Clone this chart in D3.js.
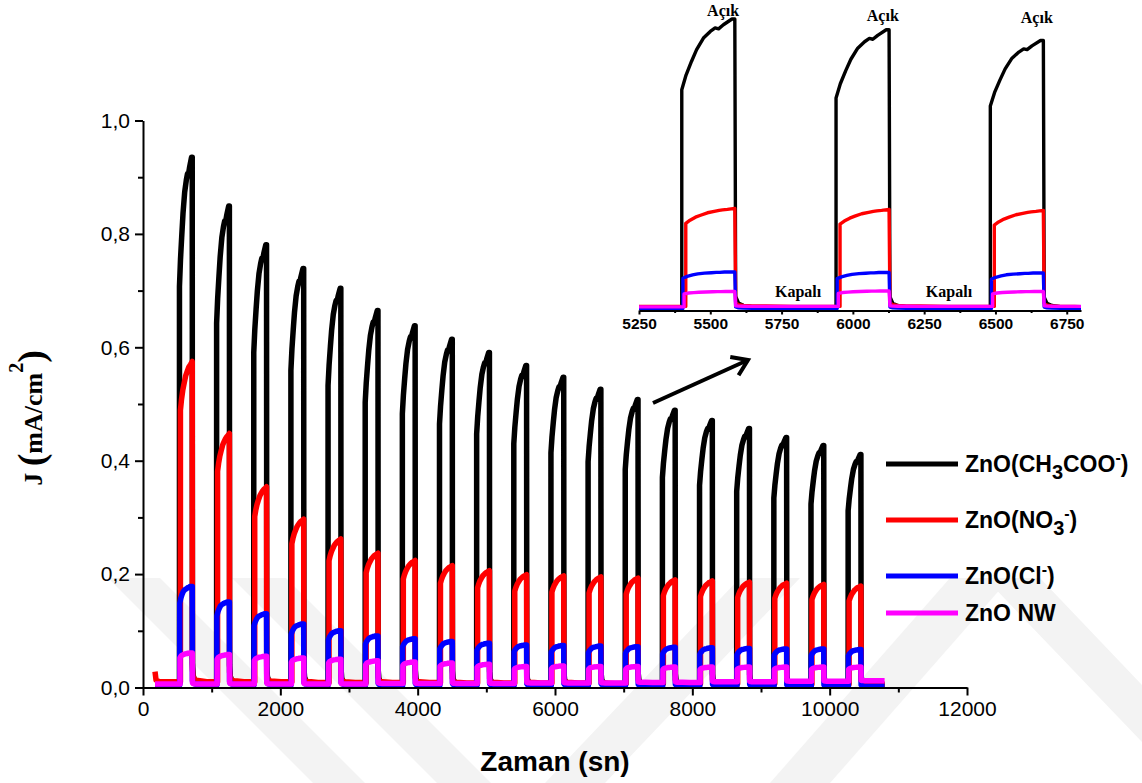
<!DOCTYPE html>
<html>
<head>
<meta charset="utf-8">
<script src="https://cdn.jsdelivr.net/npm/d3@7/dist/d3.min.js"></script>
<style>
  body { margin: 0; background: #ffffff; }
  svg { display: block; }
</style>
</head>
<body>
<svg id="chart" width="1142" height="783"></svg>
<script>
// ---- measurement timing (s) ----
const pulseStart = [531, 1072, 1613, 2154, 2695, 3236, 3777, 4318, 4859, 5400,
                    5941, 6482, 7023, 7564, 8105, 8646, 9187, 9728, 10269];
const pulseLength = 186;
const recordEnd = 10800;

// ---- photocurrent at the end of each light-on period (mA/cm2) ----
const peakAcetate = [0.935, 0.849, 0.781, 0.739, 0.704, 0.665, 0.638, 0.614, 0.591, 0.568,
                     0.547, 0.526, 0.508, 0.489, 0.471, 0.457, 0.441, 0.427, 0.411];
const peakNitrate = [0.575, 0.448, 0.354, 0.297, 0.262, 0.237, 0.224, 0.215, 0.206, 0.199,
                     0.197, 0.195, 0.193, 0.190, 0.188, 0.186, 0.184, 0.182, 0.179];
const peakChloride = [0.178, 0.151, 0.130, 0.112, 0.100, 0.091, 0.086, 0.081, 0.078, 0.075,
                      0.074, 0.073, 0.072, 0.071, 0.070, 0.069, 0.068, 0.068, 0.067];
const peakNanowire = [0.061, 0.058, 0.055, 0.052, 0.050, 0.047, 0.045, 0.043, 0.041, 0.037,
                      0.038, 0.037, 0.037, 0.036, 0.036, 0.036, 0.036, 0.036, 0.036];

// ---- dark current before each pulse and after the last one ----
const darkAcetate = [0.006, 0.006, 0.006, 0.006, 0.006, 0.005, 0.005, 0.005, 0.005, 0.005,
                     0.005, 0.005, 0.005, 0.005, 0.005, 0.005, 0.005, 0.005, 0.005, 0.005];
const darkNitrate = [0.010, 0.010, 0.010, 0.010, 0.009, 0.009, 0.009, 0.009, 0.008, 0.008,
                     0.008, 0.008, 0.007, 0.007, 0.007, 0.007, 0.007, 0.006, 0.006, 0.006];
const darkChloride = [0.005, 0.005, 0.005, 0.005, 0.005, 0.005, 0.004, 0.004, 0.004, 0.004,
                      0.004, 0.004, 0.004, 0.003, 0.003, 0.003, 0.003, 0.002, 0.002, 0.002];
const darkNanowire = [0.006, 0.006, 0.006, 0.006, 0.006, 0.006, 0.007, 0.007, 0.007, 0.007,
                      0.008, 0.008, 0.008, 0.009, 0.009, 0.010, 0.010, 0.011, 0.011, 0.012];

// ---- start of the recording ----
const leadTime = [175, 190, 240];
const leadAcetate = [0.006, 0.006, 0.006];
const leadNitrate = [0.028, 0.013, 0.010];
const leadChloride = [0.005, 0.005, 0.005];
const leadNanowire = [0.006, 0.006, 0.006];

// ---- response shape within a light-on period (fraction of the photocurrent) ----
const riseTime = [0, 15, 34, 52, 76, 100, 117, 129, 146, 176];
const riseAcetate = [0.755, 0.806, 0.853, 0.894, 0.934, 0.957, 0.969, 0.966, 0.980, 1.0];
const riseNitrate = [0.848, 0.880, 0.910, 0.930, 0.955, 0.970, 0.980, 0.985, 0.990, 1.0];
const riseChloride = [0.830, 0.880, 0.920, 0.950, 0.970, 0.980, 0.990, 0.990, 1.0, 1.0];
const riseNanowire = [0.840, 0.900, 0.930, 0.950, 0.970, 0.980, 0.990, 0.990, 1.0, 1.0];
const onDelay = [0, 14, 4, 8];

// ---- relaxation after the light is switched off ----
const decayTime = [3, 13, 30, 60, 110, 210];
const decayFrac = [0.040, 0.017, 0.009, 0.0046, 0.0035, 0];

// ---- axis ticks ----
const xTicks = [0, 2000, 4000, 6000, 8000, 10000, 12000];
const xTickLabels = ["0", "2000", "4000", "6000", "8000", "10000", "12000"];
const xMinor = [1000, 3000, 5000, 7000, 9000, 11000];
const yTicks = [0, 0.2, 0.4, 0.6, 0.8, 1.0];
const yTickLabels = ["0,0", "0,2", "0,4", "0,6", "0,8", "1,0"];
const yMinor = [0.1, 0.3, 0.5, 0.7, 0.9];
const insetTicks = [5250, 5500, 5750, 6000, 6250, 6500, 6750];
const insetTickLabels = ["5250", "5500", "5750", "6000", "6250", "6500", "6750"];
const insetMinor = [5375, 5625, 5875, 6125, 6375, 6625];

// ---- inset annotations ----
const onLabelTime = [5545, 6105, 6645];
const onLabelValue = [0.574, 0.565, 0.560];
const offLabelTime = [5808, 6337];
const offLabelValue = [0.026, 0.026];

const seriesColors = ["#000000", "#ff0000", "#0000ff", "#ff00ff"];

const series = [
  { peak: peakAcetate, dark: darkAcetate, lead: leadAcetate, rise: riseAcetate, color: seriesColors[0], delay: onDelay[0] },
  { peak: peakNitrate, dark: darkNitrate, lead: leadNitrate, rise: riseNitrate, color: seriesColors[1], delay: onDelay[1] },
  { peak: peakChloride, dark: darkChloride, lead: leadChloride, rise: riseChloride, color: seriesColors[2], delay: onDelay[2] },
  { peak: peakNanowire, dark: darkNanowire, lead: leadNanowire, rise: riseNanowire, color: seriesColors[3], delay: onDelay[3] }
];

// Assemble a time trace (t, J) from the per-cycle readings
function buildTrace(s) {
  const pts = leadTime.map((t, i) => [t, s.lead[i]]);
  pulseStart.forEach((t0, k) => {
    const d0 = s.dark[k], d1 = s.dark[k + 1], p = s.peak[k];
    const on = t0 + s.delay, off = t0 + pulseLength;
    pts.push([on, d0]);
    riseTime.forEach((dt, i) => {
      if (on + dt < off) pts.push([on + dt, d0 + (p - d0) * s.rise[i]]);
    });
    pts.push([off, p]);
    decayTime.forEach((dt, i) => pts.push([off + dt, d1 + (p - d1) * decayFrac[i]]));
  });
  pts.push([recordEnd, s.dark[s.dark.length - 1]]);
  return pts;
}
series.forEach(s => { s.trace = buildTrace(s); });

const svg = d3.select("#chart");
const SANS = "'Liberation Sans', Arial, sans-serif";
const SERIF = "'Liberation Serif', 'Times New Roman', serif";

// ---- faint background watermark ----
const wm = svg.append("g").attr("fill", "#f3f3f3");
const bands = [
  [[108, 578], [160, 578], [365, 783], [313, 783]],
  [[232, 578], [286, 578], [491, 783], [437, 783]],
  [[545, 783], [605, 783], [800, 578], [740, 578]],
  [[770, 783], [830, 783], [1010, 578], [950, 578]],
  [[985, 578], [1040, 578], [1142, 685], [1142, 742]]
];
bands.forEach(b => wm.append("polygon").attr("points", b.map(p => p.join(",")).join(" ")));

// ---- main plot ----
const x = d3.scaleLinear().domain([0, 12000]).range([143, 967]);
const y = d3.scaleLinear().domain([0, 1]).range([687.5, 120.5]);

const line = d3.line().x(d => x(d[0])).y(d => y(d[1]));

const plot = svg.append("g");
series.forEach(s => {
  plot.append("path")
    .attr("d", line(s.trace))
    .attr("fill", "none")
    .attr("stroke", s.color)
    .attr("stroke-width", 5.5)
    .attr("stroke-linejoin", "round")
    .attr("stroke-linecap", "butt");
});

function styleAxis(g, size, weight) {
  g.selectAll("path").attr("stroke", "#000").attr("stroke-width", 2);
  g.selectAll("line").attr("stroke", "#000").attr("stroke-width", 2);
  g.selectAll("text").attr("font-family", SANS).attr("font-size", size)
    .attr("font-weight", weight).attr("fill", "#000");
}

// y axis
const gy = svg.append("g").attr("transform", "translate(143,0)");
gy.call(d3.axisLeft(y).tickValues(yTicks).tickFormat((d, i) => yTickLabels[i])
  .tickSize(8).tickSizeOuter(0).tickPadding(5));
styleAxis(gy, 21, "normal");
const gyMinor = svg.append("g").attr("transform", "translate(143,0)");
gyMinor.call(d3.axisLeft(y).tickValues(yMinor).tickFormat("").tickSize(5).tickSizeOuter(0));
gyMinor.select(".domain").remove();
styleAxis(gyMinor, 21, "normal");

// x axis
const gx = svg.append("g").attr("transform", "translate(0,687.5)");
gx.call(d3.axisBottom(x).tickValues(xTicks).tickFormat((d, i) => xTickLabels[i])
  .tickSize(8).tickSizeOuter(0).tickPadding(6));
styleAxis(gx, 21, "normal");
const gxMinor = svg.append("g").attr("transform", "translate(0,687.5)");
gxMinor.call(d3.axisBottom(x).tickValues(xMinor).tickFormat("").tickSize(5).tickSizeOuter(0));
gxMinor.select(".domain").remove();
styleAxis(gxMinor, 21, "normal");

// axis titles
svg.append("text")
  .attr("x", 555).attr("y", 771)
  .attr("text-anchor", "middle")
  .attr("font-family", SANS).attr("font-weight", "bold").attr("font-size", 28)
  .text("Zaman (sn)");

const yTitle = svg.append("text")
  .attr("transform", "translate(42,418) rotate(-90)")
  .attr("text-anchor", "middle")
  .attr("font-family", SERIF).attr("font-weight", "bold").attr("fill", "#000");
yTitle.append("tspan").attr("font-size", 26).text("J ");
yTitle.append("tspan").attr("font-size", 38).attr("dy", 2).text("(");
yTitle.append("tspan").attr("font-size", 26).attr("dy", -2).text("mA/cm");
yTitle.append("tspan").attr("font-size", 20).attr("dy", -19).text("2");
yTitle.append("tspan").attr("font-size", 38).attr("dy", 21).text(")");

// ---- arrow pointing to the inset ----
const arrowFrom = [653, 403], arrowTo = [748, 360];
svg.append("line")
  .attr("x1", arrowFrom[0]).attr("y1", arrowFrom[1])
  .attr("x2", arrowTo[0]).attr("y2", arrowTo[1])
  .attr("stroke", "#000").attr("stroke-width", 4);
{
  const dx = arrowTo[0] - arrowFrom[0], dy = arrowTo[1] - arrowFrom[1];
  const ang = Math.atan2(dy, dx) + Math.PI;
  const len = 18, spread = 34 * Math.PI / 180;
  const a1 = [arrowTo[0] + len * Math.cos(ang - spread), arrowTo[1] + len * Math.sin(ang - spread)];
  const a2 = [arrowTo[0] + len * Math.cos(ang + spread), arrowTo[1] + len * Math.sin(ang + spread)];
  svg.append("path")
    .attr("d", `M${a1[0]},${a1[1]}L${arrowTo[0]},${arrowTo[1]}L${a2[0]},${a2[1]}`)
    .attr("fill", "none").attr("stroke", "#000").attr("stroke-width", 4)
    .attr("stroke-linejoin", "miter");
}

// ---- inset: three cycles enlarged ----
const xi = d3.scaleLinear().domain([5250, 6800]).range([639, 1081]);
const yi = d3.scaleLinear().domain([0, 0.568]).range([310.5, 19]);
const lineInset = d3.line().x(d => xi(d[0])).y(d => yi(d[1]));

svg.append("clipPath").attr("id", "insetClip")
  .append("rect").attr("x", 639).attr("y", 0).attr("width", 442).attr("height", 320);

const inset = svg.append("g").attr("clip-path", "url(#insetClip)");
series.forEach(s => {
  inset.append("path")
    .attr("d", lineInset(s.trace.filter(d => d[0] >= 5100 && d[0] <= 6950)))
    .attr("fill", "none")
    .attr("stroke", s.color)
    .attr("stroke-width", 3.4)
    .attr("stroke-linejoin", "round");
});

const gi = svg.append("g").attr("transform", "translate(0,310.5)");
gi.call(d3.axisBottom(xi).tickValues(insetTicks).tickFormat((d, i) => insetTickLabels[i])
  .tickSize(4).tickSizeOuter(0).tickPadding(3));
styleAxis(gi, 15.5, "bold");
const giMinor = svg.append("g").attr("transform", "translate(0,310.5)");
giMinor.call(d3.axisBottom(xi).tickValues(insetMinor).tickFormat("").tickSize(2.5).tickSizeOuter(0));
giMinor.select(".domain").remove();
styleAxis(giMinor, 15.5, "bold");

onLabelTime.forEach((t, i) => {
  svg.append("text")
    .attr("x", xi(t)).attr("y", yi(onLabelValue[i]))
    .attr("text-anchor", "middle")
    .attr("font-family", SERIF).attr("font-weight", "bold").attr("font-size", 16)
    .text("Açık");
});
offLabelTime.forEach((t, i) => {
  svg.append("text")
    .attr("x", xi(t)).attr("y", yi(offLabelValue[i]))
    .attr("text-anchor", "middle")
    .attr("font-family", SERIF).attr("font-weight", "bold").attr("font-size", 16)
    .text("Kapalı");
});

// ---- legend ----
const legendY = [464, 520, 576, 613];
const legend = svg.append("g").attr("font-family", SANS).attr("font-weight", "bold").attr("font-size", 23);
series.forEach((s, i) => {
  legend.append("line")
    .attr("x1", 886).attr("x2", 958)
    .attr("y1", legendY[i]).attr("y2", legendY[i])
    .attr("stroke", s.color).attr("stroke-width", 5);
});
function legendText(i) {
  return legend.append("text").attr("x", 965).attr("y", legendY[i] + 8);
}
{
  const t = legendText(0);
  t.append("tspan").text("ZnO(CH");
  t.append("tspan").attr("dy", 7).attr("font-size", 20).text("3");
  t.append("tspan").attr("dy", -7).text("COO");
  t.append("tspan").attr("dy", -9).attr("font-size", 16).text("-");
  t.append("tspan").attr("dy", 9).text(")");
}
{
  const t = legendText(1);
  t.append("tspan").text("ZnO(NO");
  t.append("tspan").attr("dy", 7).attr("font-size", 20).text("3");
  t.append("tspan").attr("dy", -16).attr("font-size", 16).text("-");
  t.append("tspan").attr("dy", 9).text(")");
}
{
  const t = legendText(2);
  t.append("tspan").text("ZnO(Cl");
  t.append("tspan").attr("dy", -9).attr("font-size", 16).text("-");
  t.append("tspan").attr("dy", 9).text(")");
}
legendText(3).text("ZnO NW");
</script>
</body>
</html>
